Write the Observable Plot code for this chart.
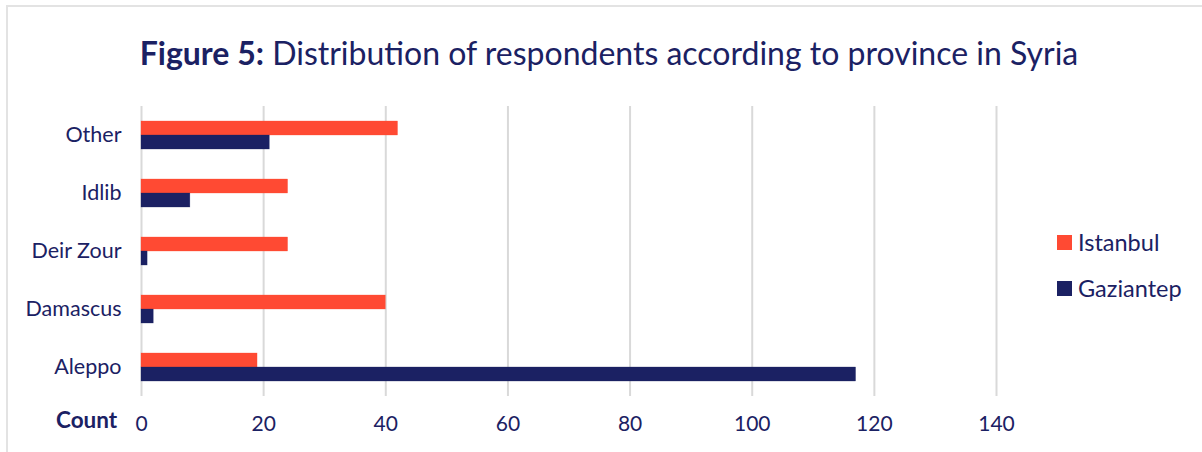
<!DOCTYPE html>
<html>
<head>
<meta charset="utf-8">
<script src="https://cdn.jsdelivr.net/npm/d3@7"></script>
<script src="https://cdn.jsdelivr.net/npm/@observablehq/plot@0.6"></script>
<style>
  html, body { margin: 0; padding: 0; background: #fff; }
  #wrap { position: relative; width: 1202px; height: 452px; overflow: hidden; font-family: Lato, sans-serif; color: #1b2163; }
  #frame { position: absolute; left: 6px; top: 5px; width: 1300px; height: 500px; border-top: 2px solid #e3e3e3; border-left: 2px solid #e3e3e3; }
  #title { position: absolute; left: 8px; width: 1202px; top: 34px; text-align: center; font-size: 32px; line-height: 38px; white-space: nowrap; }
  #title b { font-weight: 700; }
  #chart { position: absolute; left: 0; top: 95px; }
  #count { position: absolute; left: 56px; top: 408px; font-size: 22.5px; font-weight: 700; line-height: 24px; }
  #legend { position: absolute; left: 1057px; top: 229px; font-size: 23.5px; line-height: 26px; }
  .item { display: flex; align-items: center; height: 26px; margin-bottom: 20px; }
  .sw { width: 15px; height: 15px; margin-right: 6px; }
</style>
</head>
<body>
<div id="wrap">
  <div id="frame"></div>
  <div id="title"><b>Figure 5:</b> Distribution of respondents according to province in Syria</div>
  <div id="chart"></div>
  <div id="count">Count</div>
  <div id="legend"></div>
</div>
<script>
const provinces = ["Other", "Idlib", "Deir Zour", "Damascus", "Aleppo"];
const series = ["Istanbul", "Gaziantep"];
const istanbul = [42, 24, 24, 40, 19];
const gaziantep = [21, 8, 1, 2, 117];
const xTicks = [0, 20, 40, 60, 80, 100, 120, 140];
const colors = ["#ff4a33", "#1b2163"];

const rows = [];
provinces.forEach((p, i) => {
  rows.push({province: p, city: series[0], count: istanbul[i]});
  rows.push({province: p, city: series[1], count: gaziantep[i]});
});

const chart = Plot.plot({
  width: 1202,
  height: 357,
  marginLeft: 141,
  marginRight: 206,
  marginTop: 10,
  marginBottom: 55,
  style: {fontFamily: "Lato, sans-serif", fontSize: "21px", color: "#1b2163", background: "transparent"},
  x: {domain: [0, 140], ticks: xTicks, tickSize: 0, tickPadding: 20, label: null},
  y: {domain: series, paddingInner: 0, paddingOuter: 1, axis: null},
  fy: {domain: provinces, padding: 0, tickSize: 0, tickPadding: 20, label: null},
  color: {domain: series, range: colors},
  marks: [
    Plot.ruleX(xTicks, {stroke: "#d9d9d9", strokeWidth: 2}),
    Plot.barX(rows, {fy: "province", y: "city", x: "count", fill: "city", stroke: "city", strokeWidth: 0.5, strokeOpacity: 0.6}),
    Plot.axisFy({anchor: "left", tickSize: 0, tickPadding: 20, fontSize: 21.5, label: null})
  ]
});
document.getElementById("chart").appendChild(chart);

const legend = document.getElementById("legend");
series.forEach((s, i) => {
  const item = document.createElement("div");
  item.className = "item";
  const sw = document.createElement("div");
  sw.className = "sw";
  sw.style.background = colors[i];
  const t = document.createElement("span");
  t.textContent = s;
  item.appendChild(sw);
  item.appendChild(t);
  legend.appendChild(item);
});
</script>
</body>
</html>
